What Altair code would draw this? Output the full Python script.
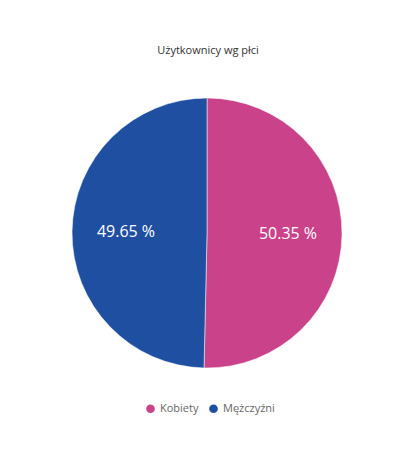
import altair as alt
import pandas as pd

categories = ["Kobiety", "Mężczyźni"]
values = [50.35, 49.65]
labels = ["50.35 %", "49.65 %"]
colors = ["#C9428A", "#1F4FA0"]

df = pd.DataFrame({"cat": categories, "value": values, "label": labels, "ord": [0, 1]})

CX, CY, R = 199, 167, 135

base = alt.Chart(df).encode(
    theta=alt.Theta("value:Q", stack=True),
    order=alt.Order("ord:Q"),
)

pie = base.mark_arc(outerRadius=R, stroke="#ffffff", strokeWidth=0.5).encode(
    x=alt.value(CX), y=alt.value(CY),
    color=alt.Color(
        "cat:N",
        scale=alt.Scale(domain=categories, range=colors),
        legend=alt.Legend(
            title=None, orient="none", direction="horizontal",
            legendX=137, legendY=337,
            symbolType="circle", symbolSize=75, symbolStrokeWidth=0,
            labelFont="Open Sans", labelFontSize=11, labelColor="#666666",
            columnPadding=9, labelOffset=4,
        ),
    ),
)

text = base.mark_text(
    radius=81, fontSize=16, color="white", font="Open Sans"
).encode(x=alt.value(CX), y=alt.value(CY), text="label:N")

chart = (pie + text).properties(
    width=400, height=382,
    padding={"left": 0, "top": 58, "right": 0, "bottom": 0},
    autosize=alt.AutoSizeParams(type="none"),
    title=alt.TitleParams(
        "Użytkownicy wg płci", anchor="middle", fontSize=11, fontWeight="normal",
        font="Open Sans", color="#333333", offset=10,
    ),
).configure_view(stroke=None)

chart.save("out.html", embed_options={"renderer": "svg", "actions": False})
